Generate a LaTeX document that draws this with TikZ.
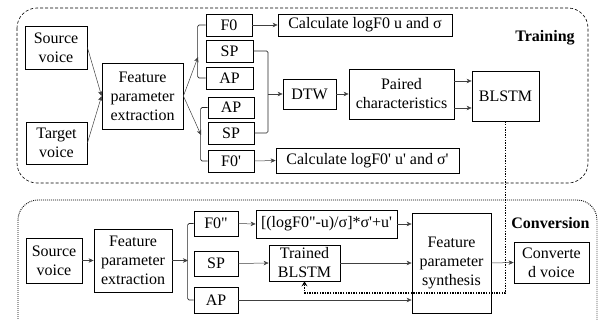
\documentclass[tikz,border=0pt]{standalone}
\usepackage{fontspec}
\setmainfont{Liberation Serif}[Ligatures=TeXOff]
\usetikzlibrary{arrows.meta}
\begin{document}
\begin{tikzpicture}[x=1pt,y=-1pt,
  box/.style={draw=black,line width=0.8pt,inner sep=0pt,align=center,font=\fontsize{16}{19}\selectfont},
  conn/.style={draw=black!75,line width=0.5pt},
  arr/.style={conn,-{Stealth[length=5pt,width=4.5pt,inset=1.5pt]}},
  brk/.style={draw=black!85,line width=0.7pt,rounded corners=1.5pt},
  lbl/.style={font=\fontsize{16}{19}\selectfont\bfseries,inner sep=0pt}]
\useasboundingbox (0,0) rectangle (601,320);
\begin{scope}
\clip (0,0) rectangle (601,320);
\draw[line width=0.6pt,dash pattern=on 3pt off 2pt,rounded corners=20pt] (17,8) rectangle (588,183);
\draw[line width=0.9pt,dash pattern=on 0.9pt off 1.1pt,rounded corners=20pt] (18,200) rectangle (597,345);
\end{scope}
% Training
\node[box,minimum width=62pt,minimum height=43pt] (srcT) at (56,47.5) {Source\\voice};
\node[box,minimum width=61pt,minimum height=42pt] (tgtT) at (56.5,143) {Target\\voice};
\node[box,minimum width=81pt,minimum height=66pt] (fpeT) at (142.5,96) {Feature\\parameter\\extraction};
\node[box,minimum width=46pt,minimum height=22pt] (f0T) at (229,25) {F0};
\node[box,minimum width=47pt,minimum height=22pt] (spT) at (229.5,51) {SP};
\node[box,minimum width=47pt,minimum height=22pt] (apT) at (229.5,78) {AP};
\node[box,minimum width=46pt,minimum height=21pt] (ap2T) at (231,107.5) {AP};
\node[box,minimum width=46pt,minimum height=22pt] (sp2T) at (231,133) {SP};
\node[box,minimum width=46pt,minimum height=22pt] (f02T) at (231,161) {F0'};
\node[box,minimum width=174pt,minimum height=22pt] (calc1) at (365,25) {Calculate logF0 u and σ};
\node[box,minimum width=183pt,minimum height=25pt] (calc2) at (367.5,160.5) {Calculate logF0' u' and σ'};
\node[box,minimum width=53pt,minimum height=30pt] (dtw) at (309.5,94) {DTW};
\node[box,minimum width=105pt,minimum height=50pt] (paired) at (401.5,94) {Paired\\characteristics};
\node[box,minimum width=67pt,minimum height=50pt] (blstm) at (505.5,96) {BLSTM};
\node[lbl] (trainlbl) at (545,38) {Training};
% Conversion
\node[box,minimum width=56pt,minimum height=45pt] (srcC) at (54,260.5) {Source\\voice};
\node[box,minimum width=78pt,minimum height=63pt] (fpeC) at (133,260.5) {Feature\\parameter\\extraction};
\node[box,minimum width=44pt,minimum height=25pt] (f0C) at (216,223.5) {F0"};
\node[box,minimum width=44pt,minimum height=25pt] (spC) at (216,263.5) {SP};
\node[box,minimum width=44pt,minimum height=26pt] (apC) at (216,300) {AP};
\node[box,minimum width=141pt,minimum height=28pt] (formula) at (326.5,224) {[(logF0"-u)/σ]*σ'+u'};
\node[box,minimum width=71pt,minimum height=36pt] (trained) at (304.5,263) {Trained\\BLSTM};
\node[box,minimum width=79pt,minimum height=100pt] (fps) at (451.5,263) {Feature\\parameter\\synthesis};
\node[box,minimum width=75pt,minimum height=41pt] (conv) at (551.5,262.5) {Converte\\d voice};
\node[lbl] (convlbl) at (550.5,223) {Conversion};
% Training connectors
\coordinate (ub) at (198,57);
\coordinate (lb) at (201,135);
\coordinate (sj) at (268,94);
\draw[arr] (srcT.east) -- (fpeT.west);
\draw[arr] (tgtT.east) -- (fpeT.west);
\draw[brk] (f0T.west) -- ++(-8,0) |- (apT.west);
\draw[brk] (ap2T.west) -- ++(-7,0) |- (f02T.west);
\draw[arr] (fpeT.east) -- (ub);
\draw[arr] (fpeT.east) -- (lb);
\draw[brk] (spT.east) -| (sj) |- (sp2T.east);
\draw[arr] (sj) -- (dtw.west);
\draw[arr] (f0T.east) -- (calc1.west);
\draw[arr] (f02T.east) -- (calc2.west);
\draw[arr] (dtw.east) -- (paired.west);
\draw[arr] ([yshift=13pt]paired.east) -- ([yshift=13pt]paired.east -| blstm.west);
\draw[arr] ([yshift=-14pt]paired.east) -- ([yshift=-14pt]paired.east -| blstm.west);
% Conversion connectors
\coordinate (cb) at (188,260.5);
\draw[arr] (srcC.east) -- (fpeC.west);
\draw[brk] (f0C.west) -- ++(-6,0) |- (apC.west);
\draw[arr] (fpeC.east) -- (cb);
\draw[arr] (f0C.east) -- (formula.west);
\draw[arr] (spC.east) -- (trained.west);
\draw[arr] (apC.east) -- (apC.east -| fps.west);
\draw[arr] (formula.east) -- (formula.east -| fps.west);
\draw[arr] (trained.east) -- (trained.east -| fps.west);
\draw[arr] (fps.east) -- (conv.west);
\coordinate (dl) at (505.5,293);
\draw[line width=1.6pt,dash pattern=on 1.4pt off 1.2pt,-{Stealth[length=5pt,width=6pt,inset=2pt]}] (blstm.south) -- (dl) -| (trained.south);
\end{tikzpicture}
\end{document}
